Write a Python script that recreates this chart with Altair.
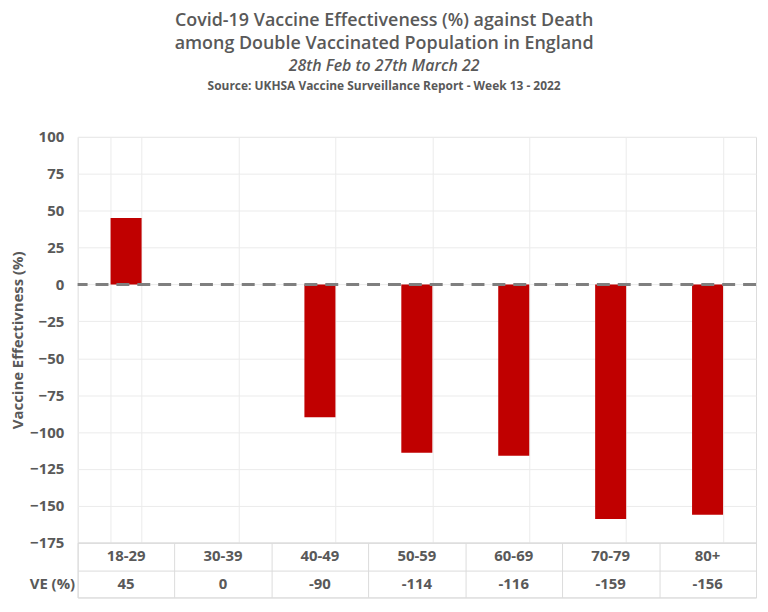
import altair as alt
import pandas as pd

categories = ["18-29", "30-39", "40-49", "50-59", "60-69", "70-79", "80+"]
ve_values = [45, 0, -90, -114, -116, -159, -156]
row_keys = ["cat", "ve"]
y_ticks = [100, 75, 50, 25, 0, -25, -50, -75, -100, -125, -150, -175]

FONT = "Open Sans"
TXT = "#595959"
GRID = "#ebebeb"
BAR = "#c00000"

df = pd.DataFrame({"age": categories, "ve": ve_values})

table_rows = []
for c, v in zip(categories, ve_values):
    table_rows.append({"age": c, "row": "cat", "label": c})
    table_rows.append({"age": c, "row": "ve", "label": str(v)})
tdf = pd.DataFrame(table_rows)

x_main = alt.X(
    "age:N",
    sort=categories,
    scale=alt.Scale(paddingInner=0.68, paddingOuter=0.34),
    axis=alt.Axis(labels=False, ticks=False, domain=False, title=None,
                  grid=True, tickBand="extent", gridColor=GRID,
                  minExtent=0, maxExtent=0, offset=0),
)

y_main = alt.Y(
    "ve:Q",
    scale=alt.Scale(domain=[-175, 100], nice=False, zero=False),
    axis=alt.Axis(
        values=y_ticks,
        title="Vaccine Effectivness (%)",
        titleFont=FONT, titleFontSize=15, titleFontWeight="bold",
        titleColor=TXT, titlePadding=4,
        labelFont=FONT, labelFontSize=15, labelFontWeight="bold",
        labelColor=TXT, labelPadding=14, labelOverlap=False,
        domain=False, ticks=False, grid=True, gridColor=GRID,
    ),
)

bars = alt.Chart(df).mark_bar(color=BAR).encode(x=x_main, y=y_main)

zero_df = pd.DataFrame({"ve": [0]})
zero_rule = alt.Chart(zero_df).mark_rule(
    color="#7f7f7f", strokeWidth=3, strokeDash=[13, 8]
).encode(y=y_main)

main = alt.layer(bars, zero_rule).properties(
    width=682,
    height=408,
    title=alt.TitleParams(
        "Source: UKHSA Vaccine Surveillance Report - Week 13 - 2022",
        font=FONT, fontSize=12, fontWeight="bold", color=TXT,
        anchor="middle", frame="bounds", offset=37,
    ),
)

table = alt.Chart(tdf).mark_text(
    font=FONT, fontSize=15, fontWeight="bold", color=TXT
).encode(
    x=alt.X(
        "age:N", sort=categories,
        scale=alt.Scale(paddingInner=0, paddingOuter=0),
        axis=alt.Axis(labels=False, ticks=False, domain=False, title=None,
                      grid=True, tickBand="extent", gridColor="#dcdcdc",
                      minExtent=0, maxExtent=0),
    ),
    y=alt.Y(
        "row:N", sort=row_keys,
        scale=alt.Scale(domain=row_keys, paddingInner=0, paddingOuter=0),
        axis=alt.Axis(
            labelExpr="datum.value == 've' ? 'VE (%)' : ''",
            labelFont=FONT, labelFontSize=15, labelFontWeight="bold",
            labelColor=TXT, labelPadding=3,
            ticks=False, domain=False, title=None,
            grid=True, tickBand="extent", gridColor="#dcdcdc",
        ),
    ),
    text="label:N",
).properties(width=682, height=55)

chart = alt.vconcat(main, table, spacing=0, bounds="flush").properties(
    title=alt.TitleParams(
        ["Covid-19 Vaccine Effectiveness (%) against Death",
         "among Double Vaccinated Population in England"],
        subtitle="28th Feb to 27th March 22",
        font=FONT, fontSize=18, fontWeight=600, color=TXT, lineHeight=23,
        subtitleFont=FONT, subtitleFontSize=16, subtitleFontStyle="italic",
        subtitleFontWeight=600, subtitleColor=TXT, subtitlePadding=5,
        anchor="middle", offset=6,
    ),
    padding={"left": 2, "top": 2, "right": 2, "bottom": 2},
).configure_view(stroke=None).configure_axis(labelOverlap=False).configure(background="white")

chart.save("out.html", embed_options={"renderer": "svg", "actions": False})
